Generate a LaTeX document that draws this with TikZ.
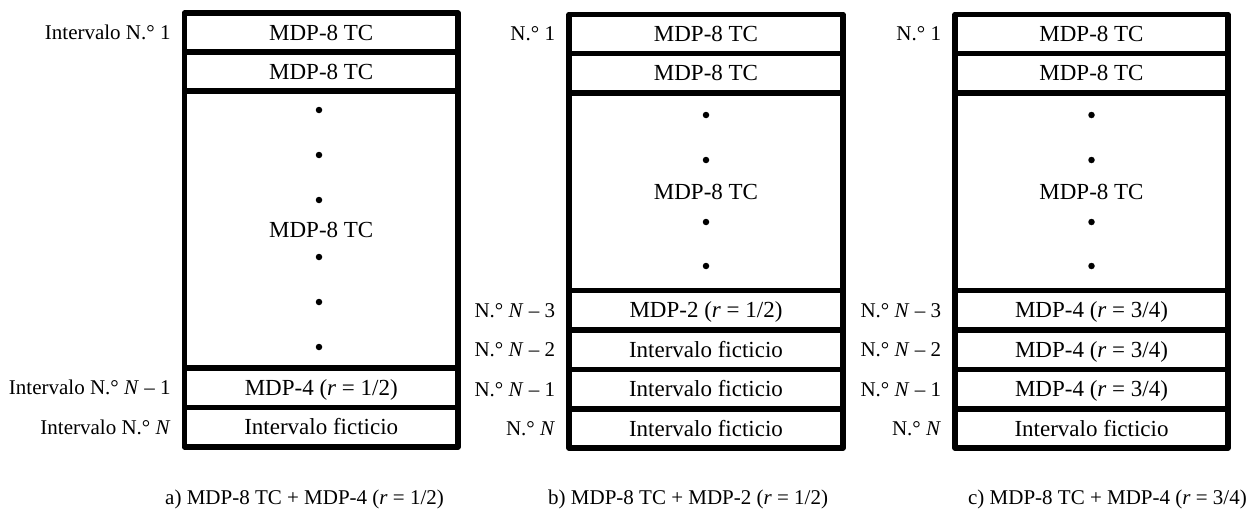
\documentclass[tikz,border=0pt]{standalone}
\usepackage{fontspec}
\setmainfont{Liberation Serif}
\begin{document}
\begin{tikzpicture}[x=1pt,y=-1pt,line join=round,
  cell/.style={draw,line width=5.5pt,minimum width=#1,inner sep=0pt,
    font=\fontsize{23}{27}\selectfont,text height=15.2pt,text depth=0pt},
  lab/.style={anchor=east,inner sep=0pt,xshift=-11pt,
    font=\fontsize{21}{25}\selectfont,text height=13.9pt,text depth=0pt},
  captext/.style={inner sep=0pt,font=\fontsize{21}{25}\selectfont},
  dotmark/.style={circle,fill,inner sep=0pt,minimum size=6.5pt}]
\useasboundingbox (0,0) rectangle (1258,511);
% ---------- panel a ----------
\node[cell=273.5,minimum height=39] (a1) at (321.25,32.5) {MDP-8 TC};
\node[cell=273.5,minimum height=39] (a2) at (321.25,71.5) {MDP-8 TC};
\node[cell=273.5,minimum height=277] (a3) at (321.25,229.5) {MDP-8 TC};
\node[cell=273.5,minimum height=39.5] (a4) at (321.25,387.75) {MDP-4 (\textit{r} = 1/2)};
\node[cell=273.5,minimum height=39.5] (a5) at (321.25,427.25) {Intervalo ficticio};
\foreach \y [count=\i] in {110,155,200,257,302,347}
  \node[dotmark] (ad\i) at (319,\y) {};
\node[lab] (la1) at (a1.west) {Intervalo N.° 1};
\node[lab] (la4) at (a4.west) {Intervalo N.° \textit{N} -- 1};
\node[lab] (la5) at (a5.west) {Intervalo N.° \textit{N}};
% ---------- panel b ----------
\node[cell=274,minimum height=39] (b1) at (706,34) {MDP-8 TC};
\node[cell=274,minimum height=39.5] (b2) at (706,73.25) {MDP-8 TC};
\node[cell=274,minimum height=197.5] (b3) at (706,191.75) {MDP-8 TC};
\node[cell=274,minimum height=39.5] (b4) at (706,310.25) {MDP-2 (\textit{r} = 1/2)};
\node[cell=274,minimum height=39.5] (b5) at (706,349.75) {Intervalo ficticio};
\node[cell=274,minimum height=39.5] (b6) at (706,389.25) {Intervalo ficticio};
\node[cell=274,minimum height=39] (b7) at (706,428.5) {Intervalo ficticio};
\foreach \y [count=\i] in {115,160,222,266}
  \node[dotmark] (bd\i) at (706,\y) {};
\node[lab] (lb1) at (b1.west) {N.° 1};
\node[lab] (lb4) at (b4.west) {N.° \textit{N} -- 3};
\node[lab] (lb5) at (b5.west) {N.° \textit{N} -- 2};
\node[lab] (lb6) at (b6.west) {N.° \textit{N} -- 1};
\node[lab] (lb7) at (b7.west) {N.° \textit{N}};
% ---------- panel c ----------
\node[cell=273,minimum height=39] (c1) at (1091.5,34) {MDP-8 TC};
\node[cell=273,minimum height=39.5] (c2) at (1091.5,73.25) {MDP-8 TC};
\node[cell=273,minimum height=197.5] (c3) at (1091.5,191.75) {MDP-8 TC};
\node[cell=273,minimum height=39.5] (c4) at (1091.5,310.25) {MDP-4 (\textit{r} = 3/4)};
\node[cell=273,minimum height=39.5] (c5) at (1091.5,349.75) {MDP-4 (\textit{r} = 3/4)};
\node[cell=273,minimum height=39.5] (c6) at (1091.5,389.25) {MDP-4 (\textit{r} = 3/4)};
\node[cell=273,minimum height=39] (c7) at (1091.5,428.5) {Intervalo ficticio};
\foreach \y [count=\i] in {115,160,222,266}
  \node[dotmark] (cd\i) at (1091.5,\y) {};
\node[lab] (lc1) at (c1.west) {N.° 1};
\node[lab] (lc4) at (c4.west) {N.° \textit{N} -- 3};
\node[lab] (lc5) at (c5.west) {N.° \textit{N} -- 2};
\node[lab] (lc6) at (c6.west) {N.° \textit{N} -- 1};
\node[lab] (lc7) at (c7.west) {N.° \textit{N}};
% ---------- captions ----------
\node[captext,anchor=base west] (capa) at (165,504) {a) MDP-8 TC + MDP-4 (\textit{r} = 1/2)};
\node[captext,anchor=base west] (capb) at (548,504) {b) MDP-8 TC + MDP-2 (\textit{r} = 1/2)};
\node[captext,anchor=base east] (capc) at (1247,504) {c) MDP-8 TC + MDP-4 (\textit{r} = 3/4)};
\end{tikzpicture}
\end{document}
